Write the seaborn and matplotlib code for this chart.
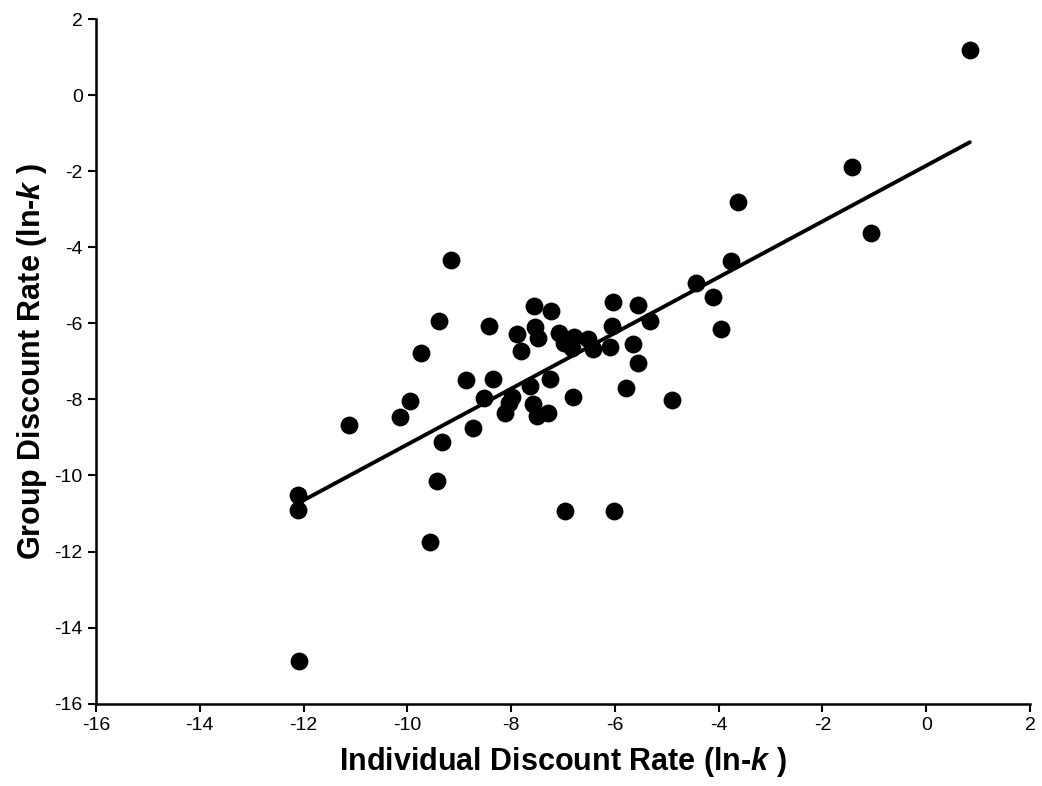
import numpy as np
import pandas as pd
import matplotlib
matplotlib.use("Agg")
import matplotlib.pyplot as plt
import seaborn as sns

# valores (ln-k)
individual = [0.84, -1.44, -1.06, -3.62, -3.77, -4.44, -4.11, -3.96, -5.32, -5.55,
              -5.66, -5.56, -5.79, -4.90, -6.04, -6.05, -6.09, -6.43, -6.51, -6.83,
              -6.78, -6.99, -7.07, -6.80, -7.25, -7.28, -7.51, -7.57, -7.64, -8.12,
              -8.05, -7.99, -7.81, -7.49, -7.54, -7.89, -7.23, -7.55, -8.42, -8.52,
              -8.34, -8.86, -8.74, -9.34, -10.14, -9.95, -9.74, -9.38, -9.16, -11.12,
              -12.10, -12.10, -9.43, -9.56, -12.09, -6.96, -6.01]
grupo = [1.18, -1.88, -3.62, -2.82, -4.37, -4.95, -5.32, -6.16, -5.93, -5.52,
         -6.55, -7.04, -7.69, -8.02, -5.45, -6.07, -6.61, -6.68, -6.42, -6.66,
         -6.35, -6.53, -6.26, -7.93, -7.47, -8.35, -8.44, -8.13, -7.65, -8.37,
         -8.09, -7.93, -6.73, -6.39, -6.09, -6.28, -5.68, -5.54, -6.07, -7.97,
         -7.47, -7.49, -8.76, -9.13, -8.45, -8.04, -6.79, -5.93, -4.34, -8.67,
         -10.51, -10.91, -10.15, -11.74, -14.87, -10.93, -10.93]

df = pd.DataFrame({"individual": individual, "grupo": grupo})

sns.set_style("ticks")
plt.rcParams["font.family"] = ["Liberation Sans", "DejaVu Sans"]
plt.rcParams["axes.unicode_minus"] = False
plt.rcParams["mathtext.fontset"] = "custom"
plt.rcParams["mathtext.it"] = "Liberation Sans:bold:italic"
plt.rcParams["mathtext.rm"] = "Liberation Sans:bold"
plt.rcParams["text.color"] = "black"
plt.rcParams["axes.labelcolor"] = "black"
plt.rcParams["xtick.color"] = "black"
plt.rcParams["ytick.color"] = "black"
plt.rcParams["axes.edgecolor"] = "black"

fig = plt.figure(figsize=(10.42, 7.86), dpi=100)
ax = fig.add_axes([0.0921, 0.1047, 0.8964, 0.8711])

sns.regplot(data=df, x="individual", y="grupo", ax=ax, ci=None, truncate=True,
            scatter_kws={"s": 165, "color": "black", "alpha": 1, "linewidths": 0},
            line_kws={"color": "black", "lw": 2.8})

ax.set_xlim(-16, 2)
ax.set_ylim(-16, 2)
ax.set_xticks(np.arange(-16, 3, 2))
ax.set_yticks(np.arange(-16, 3, 2))
ax.tick_params(labelsize=14, length=6, width=1.5, direction="out")
for s in ["left", "bottom"]:
    ax.spines[s].set_linewidth(1.8)
sns.despine(ax=ax)

ax.set_xlabel("Individual Discount Rate (ln-$\\mathit{k}$ )", fontsize=22,
              fontweight="bold", labelpad=8)
ax.set_ylabel("Group Discount Rate (ln-$\\mathit{k}$ )", fontsize=22,
              fontweight="bold", labelpad=4)

fig.savefig("out.png", dpi=100)
